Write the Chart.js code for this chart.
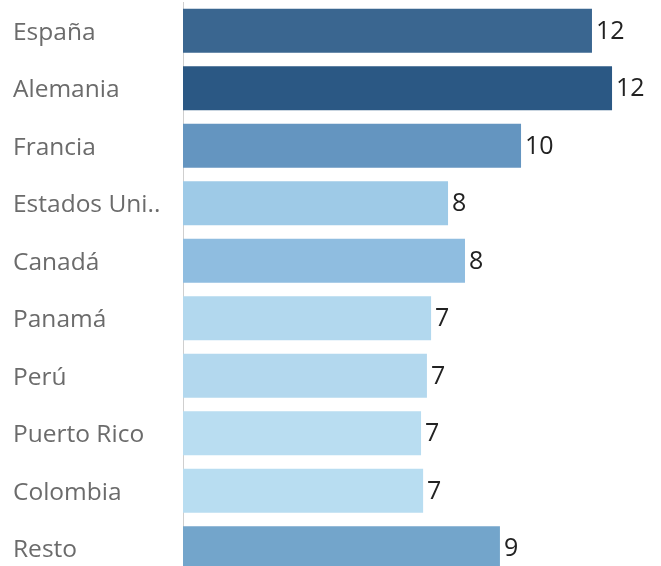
<!DOCTYPE html>
<html>
<head>
<meta charset="utf-8">
<script src="https://cdn.jsdelivr.net/npm/chart.js@4"></script>
<style>
  html, body { margin: 0; padding: 0; background: #fff; overflow: hidden; }
  #wrap { width: 661px; height: 577px; }
</style>
</head>
<body>
<div id="wrap"><canvas id="chart-paises"></canvas></div>
<script>
  // Países (orden tal como aparece en el gráfico)
  var paises = ['España', 'Alemania', 'Francia', 'Estados Uni..', 'Canadá', 'Panamá', 'Perú', 'Puerto Rico', 'Colombia', 'Resto'];
  var valores = [11.82, 12.40, 9.77, 7.66, 8.15, 7.17, 7.05, 6.88, 6.94, 9.16];
  var colores = ['#3a6690', '#2b5884', '#6495c0', '#9ecae7', '#8fbde0', '#b2d8ee', '#b3d8ee', '#b9ddf1', '#b8ddf1', '#73a5cb'];

  // etiquetas de valor al final de cada barra
  var etiquetasValor = {
    id: 'etiquetasValor',
    afterDatasetsDraw: function(chart) {
      var ctx = chart.ctx;
      var meta = chart.getDatasetMeta(0);
      ctx.save();
      ctx.font = '25px "Open Sans"';
      ctx.fillStyle = '#222';
      ctx.textAlign = 'left';
      ctx.textBaseline = 'middle';
      meta.data.forEach(function(bar, i) {
        ctx.fillText(Math.round(valores[i]), bar.x + 4, bar.y + 1);
      });
      ctx.restore();
    }
  };

  new Chart(document.getElementById('chart-paises'), {
    type: 'bar',
    data: {
      labels: paises,
      datasets: [{
        data: valores,
        backgroundColor: colores,
        borderWidth: 0,
        barPercentage: 0.765,
        categoryPercentage: 1
      }]
    },
    options: {
      indexAxis: 'y',
      responsive: true,
      maintainAspectRatio: false,
      animation: false,
      layout: { padding: { left: 13, top: 2, right: 0, bottom: 0 } },
      plugins: {
        legend: { display: false },
        tooltip: { enabled: false }
      },
      scales: {
        x: {
          display: false,
          min: 0,
          max: 13.815
        },
        y: {
          grid: { display: false, drawTicks: false },
          border: { display: true, color: '#cfcfcf', dash: [3, 3], width: 1 },
          ticks: {
            crossAlign: 'far',
            padding: 0,
            labelOffset: 2,
            color: '#6b6b6b',
            font: { family: 'Open Sans', size: 24.5 }
          },
          afterFit: function(axis) {
            axis.width = 170;
            axis.paddingTop = 0;
            axis.paddingBottom = 0;
          }
        }
      }
    },
    plugins: [etiquetasValor]
  });
</script>
</body>
</html>
